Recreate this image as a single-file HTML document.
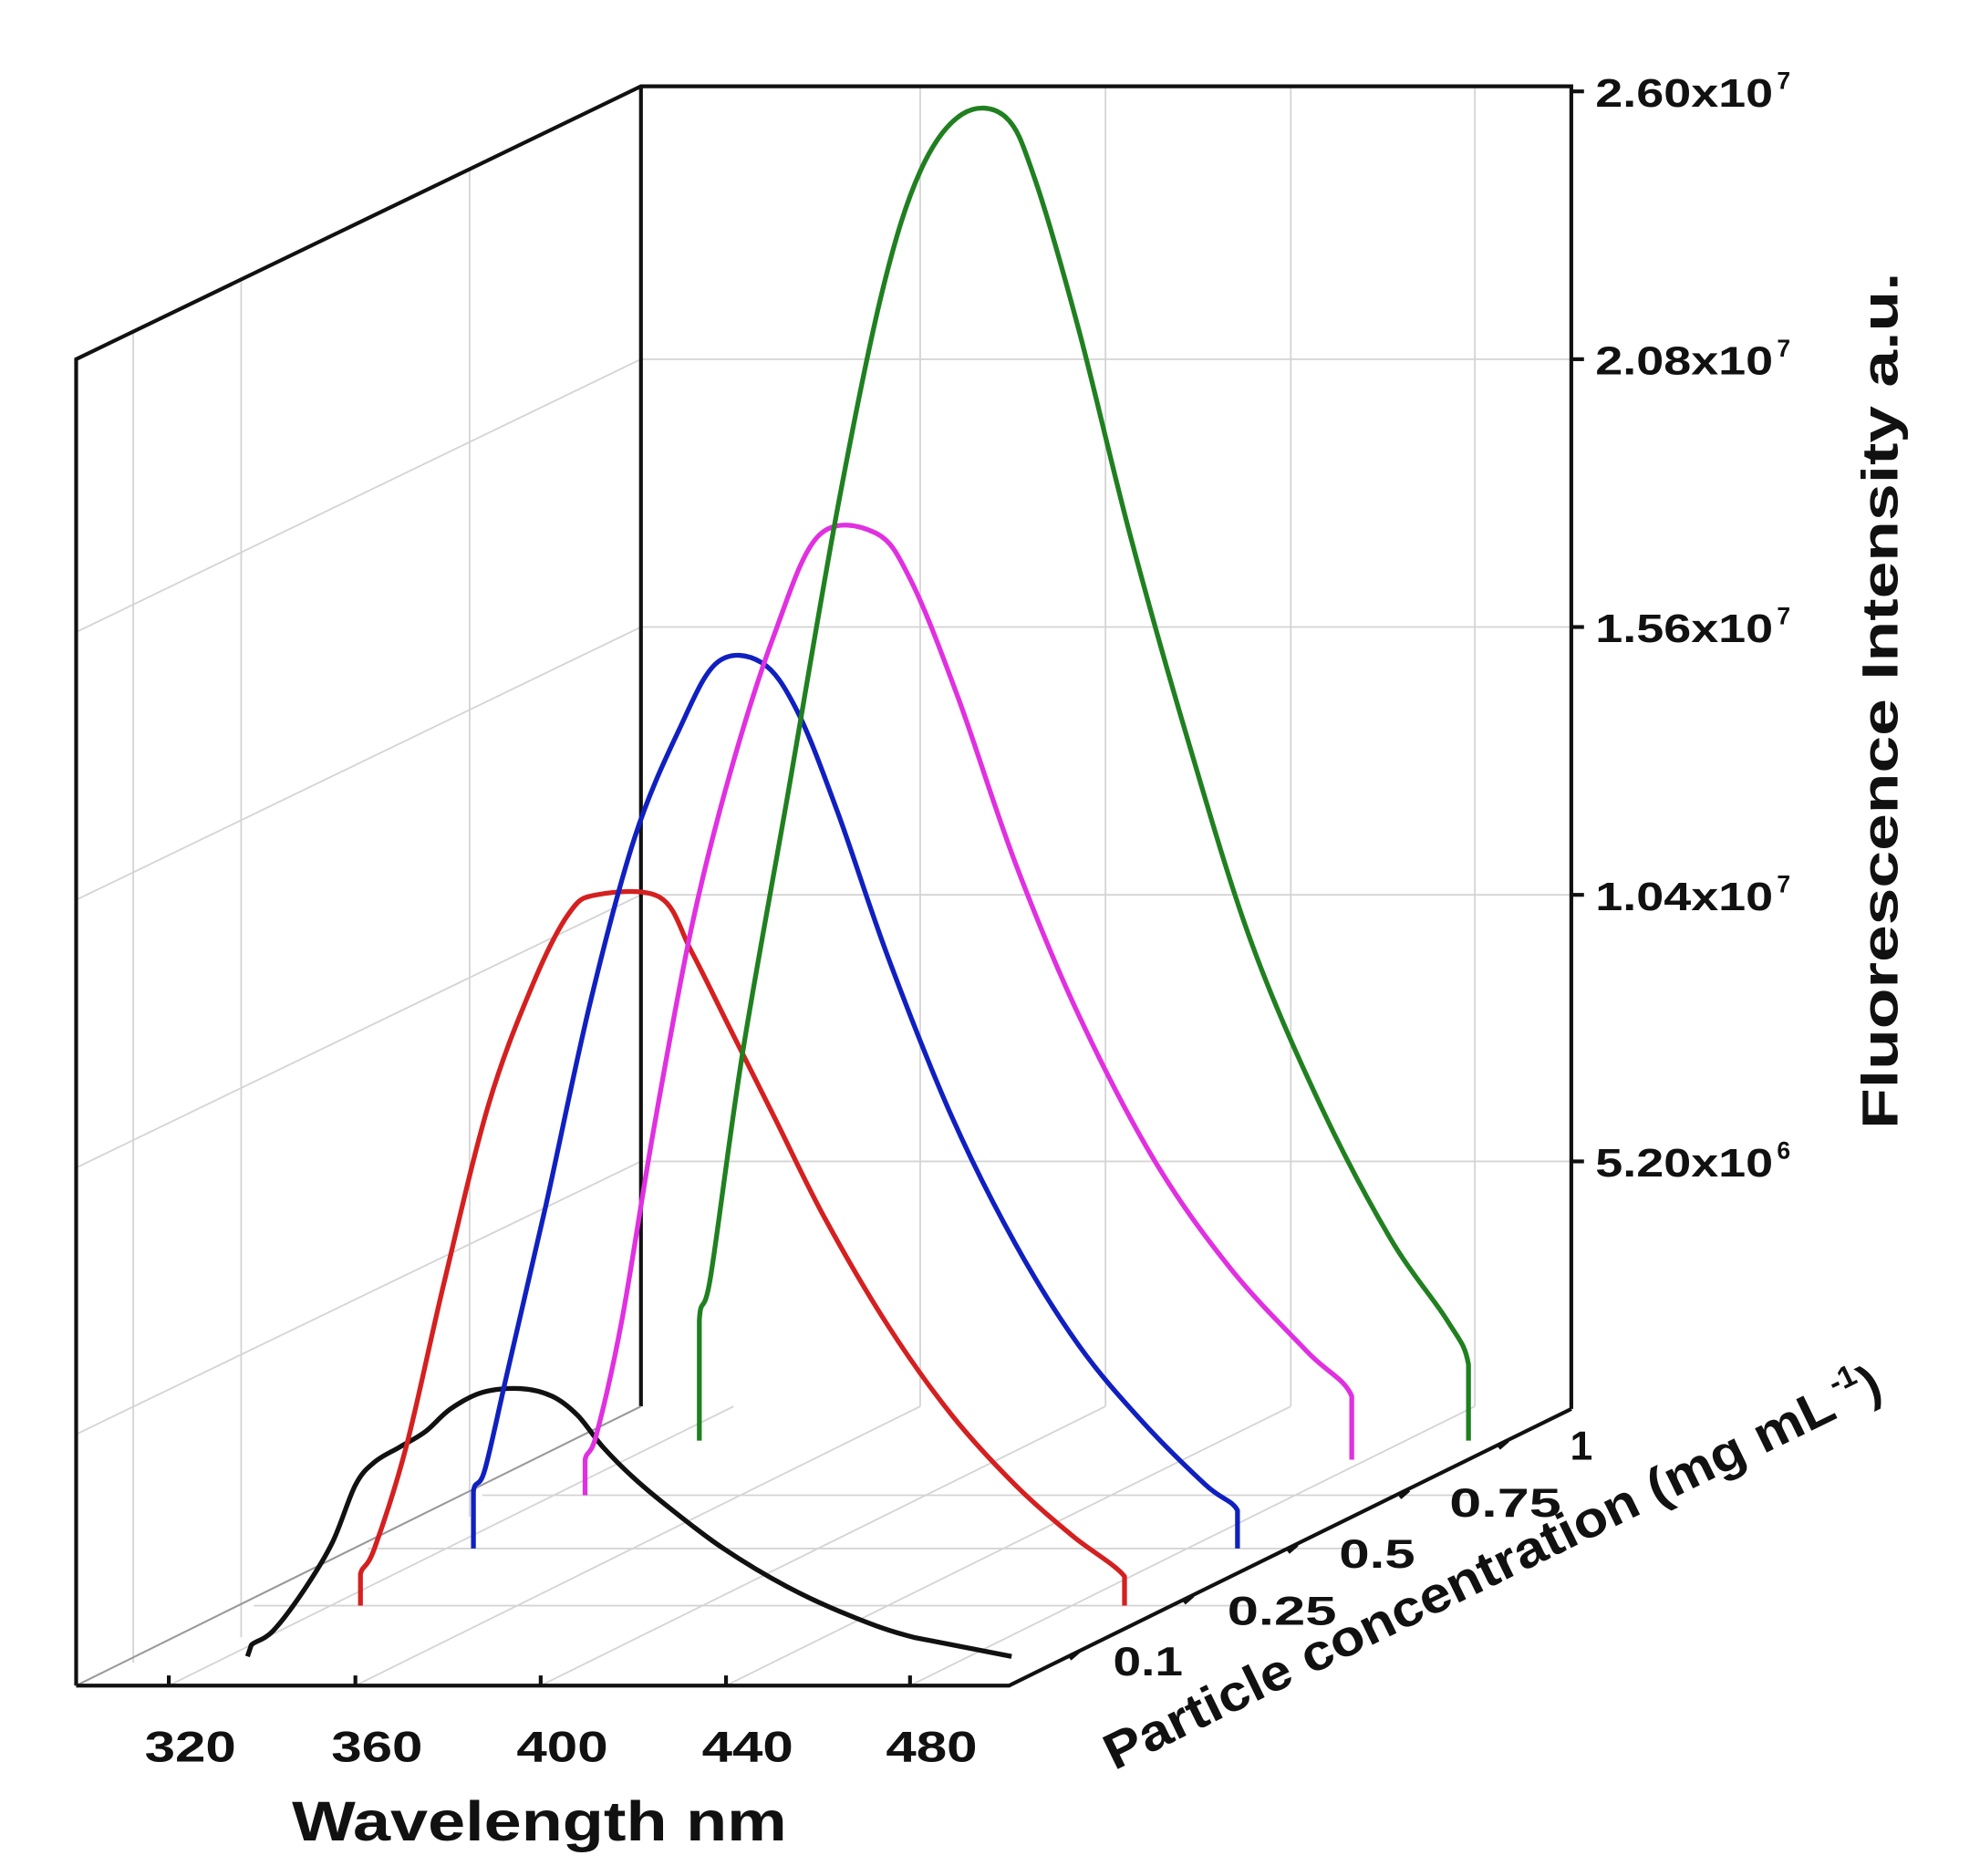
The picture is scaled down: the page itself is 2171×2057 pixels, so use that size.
<!DOCTYPE html>
<html><head><meta charset="utf-8"><style>
html,body{margin:0;padding:0;background:#fff;}
svg{display:block;}
text{font-family:"Liberation Sans",sans-serif;font-weight:bold;fill:#111;}
</style></head><body>
<svg id="s" width="2171" height="2057" viewBox="0 0 1560 1478" preserveAspectRatio="none" xmlns="http://www.w3.org/2000/svg">
<g stroke="#d4d4d4" stroke-width="1.3" fill="none">
<line x1="505" y1="283" x2="1238" y2="283"/><line x1="505" y1="494" x2="1238" y2="494"/>
<line x1="505" y1="705" x2="1238" y2="705"/><line x1="505" y1="915" x2="1238" y2="915"/>
<line x1="725" y1="68" x2="725" y2="1108"/><line x1="871" y1="68" x2="871" y2="1108"/>
<line x1="1017" y1="68" x2="1017" y2="1108"/><line x1="1162" y1="68" x2="1162" y2="1108"/>
<line x1="60" y1="498" x2="505" y2="283"/><line x1="60" y1="709" x2="505" y2="494"/>
<line x1="60" y1="920" x2="505" y2="705"/><line x1="60" y1="1130" x2="505" y2="915"/>
<line x1="105" y1="262" x2="105" y2="1310"/><line x1="190" y1="220" x2="190" y2="1290"/><line x1="370" y1="133" x2="370" y2="1195"/>
<line x1="133" y1="1328" x2="578" y2="1108"/><line x1="280" y1="1328" x2="725" y2="1108"/>
<line x1="426" y1="1328" x2="871" y2="1108"/><line x1="572" y1="1328" x2="1017" y2="1108"/>
<line x1="717" y1="1328" x2="1162" y2="1108"/>
<line x1="380" y1="1178" x2="1160" y2="1178"/><line x1="290" y1="1220" x2="1075" y2="1220"/>
<line x1="200" y1="1265" x2="985" y2="1265"/>
</g>
<g stroke="#111" stroke-width="3" fill="none">
<polyline points="60,1328 60,283 505,68 1238,68 1238,1110"/>
<line x1="505" y1="68" x2="505" y2="1108"/>
<line x1="505" y1="1108" x2="60" y2="1328" stroke="#999" stroke-width="1.5"/>
<polyline points="60,1328 795,1328 1238,1110"/>
</g>
<g stroke="#111" stroke-width="3">
<line x1="1238" y1="72" x2="1248" y2="72"/><line x1="1238" y1="283" x2="1248" y2="283"/>
<line x1="1238" y1="494" x2="1248" y2="494"/><line x1="1238" y1="705" x2="1248" y2="705"/>
<line x1="1238" y1="915" x2="1248" y2="915"/>
<line x1="133" y1="1328" x2="133" y2="1320"/><line x1="280" y1="1328" x2="280" y2="1320"/>
<line x1="426" y1="1328" x2="426" y2="1320"/><line x1="572" y1="1328" x2="572" y2="1320"/><line x1="717" y1="1328" x2="717" y2="1320"/>
</g>
<g fill="none" stroke-width="3.8" stroke-linejoin="round" class="curves">
<polyline stroke="#111" points="195,1305 198,1296 215,1285 240,1252 262,1215 280,1170 295,1152 315,1140 335,1128 355,1110 380,1097 410,1094 435,1100 455,1115 475,1140 500,1165 530,1190 570,1220 620,1250 670,1273 720,1290 797,1305"/>
<polyline stroke="#d42020" points="284,1265 284,1240 295,1220 320,1140 350,1010 385,870 420,775 448,720 470,705 520,707 545,750 575,810 610,880 650,960 700,1045 750,1115 800,1170 845,1210 886,1242 886,1265"/>
<polyline stroke="#1020c0" points="373,1220 373,1175 382,1158 400,1080 430,950 465,790 500,660 535,575 565,522 600,522 628,560 660,640 700,755 750,880 800,980 850,1060 900,1120 950,1170 975,1190 975,1220"/>
<polyline stroke="#e030e0" points="461,1178 461,1150 470,1130 490,1040 515,890 545,730 575,610 610,500 645,422 690,420 718,458 755,550 800,680 850,800 910,915 970,1000 1030,1065 1065,1100 1065,1150"/>
<polyline stroke="#208020" points="551,1135 551,1040 560,1005 585,830 620,630 660,400 695,230 725,135 758,90 792,92 815,140 850,260 890,420 935,580 985,740 1040,870 1095,975 1140,1040 1157,1075 1157,1135"/>
</g>
<g font-size="31">
<text x="1257" y="84" textLength="140" lengthAdjust="spacingAndGlyphs">2.60x10</text><text x="1400" y="70" font-size="19">7</text>
<text x="1257" y="295" textLength="140" lengthAdjust="spacingAndGlyphs">2.08x10</text><text x="1400" y="281" font-size="19">7</text>
<text x="1257" y="506" textLength="140" lengthAdjust="spacingAndGlyphs">1.56x10</text><text x="1400" y="492" font-size="19">7</text>
<text x="1257" y="717" textLength="140" lengthAdjust="spacingAndGlyphs">1.04x10</text><text x="1400" y="703" font-size="19">7</text>
<text x="1257" y="927" textLength="140" lengthAdjust="spacingAndGlyphs">5.20x10</text><text x="1400" y="913" font-size="19">6</text>
</g>
<text font-size="40" transform="translate(1495,552) rotate(-90)" text-anchor="middle" textLength="675" lengthAdjust="spacingAndGlyphs">Fluorescence Intensity a.u.</text>
<g font-size="34" text-anchor="middle">
<text x="150" y="1388" textLength="72" lengthAdjust="spacingAndGlyphs">320</text><text x="297" y="1388" textLength="72" lengthAdjust="spacingAndGlyphs">360</text><text x="443" y="1388" textLength="72" lengthAdjust="spacingAndGlyphs">400</text>
<text x="589" y="1388" textLength="72" lengthAdjust="spacingAndGlyphs">440</text><text x="734" y="1388" textLength="72" lengthAdjust="spacingAndGlyphs">480</text>
</g>
<text x="425" y="1450" font-size="44" text-anchor="middle" textLength="390" lengthAdjust="spacingAndGlyphs">Wavelength nm</text>
<g font-size="32">
<text x="877" y="1320" textLength="55" lengthAdjust="spacingAndGlyphs">0.1</text><text x="967" y="1280" textLength="86" lengthAdjust="spacingAndGlyphs">0.25</text><text x="1055" y="1235" textLength="60" lengthAdjust="spacingAndGlyphs">0.5</text>
<text x="1142" y="1195" textLength="88" lengthAdjust="spacingAndGlyphs">0.75</text><text x="1237" y="1150">1</text>
</g>
<g stroke="#111" stroke-width="3">
<line x1="850" y1="1301" x2="843" y2="1307"/><line x1="940" y1="1257" x2="933" y2="1263"/>
<line x1="1022" y1="1217" x2="1015" y2="1223"/><line x1="1110" y1="1174" x2="1103" y2="1180"/><line x1="1188" y1="1135" x2="1181" y2="1141"/>
</g>
<g transform="translate(878,1395) rotate(-26)">
<text font-size="40" textLength="635" lengthAdjust="spacingAndGlyphs">Particle concentration (mg mL</text>
<text x="640" y="-18" font-size="24">-1</text>
<text x="662" font-size="40">)</text>
</g>
</svg>
<script>
document.querySelectorAll('.curves polyline').forEach(function(pl){
  var p=pl.getAttribute('points').trim().split(/\s+/).map(function(s){return s.split(',').map(Number);});
  var d='M'+p[0][0]+','+p[0][1]+' L'+p[1][0]+','+p[1][1];
  for(var i=1;i<p.length-2;i++){
    var p0=p[i-1],p1=p[i],p2=p[i+1],p3=p[i+2];
    var c1=[p1[0]+(p2[0]-p0[0])/6,p1[1]+(p2[1]-p0[1])/6];
    var c2=[p2[0]-(p3[0]-p1[0])/6,p2[1]-(p3[1]-p1[1])/6];
    d+=' C'+c1[0]+','+c1[1]+' '+c2[0]+','+c2[1]+' '+p2[0]+','+p2[1];
  }
  var n=p.length; d+=' L'+p[n-1][0]+','+p[n-1][1];
  var path=document.createElementNS('http://www.w3.org/2000/svg','path');
  path.setAttribute('d',d);path.setAttribute('stroke',pl.getAttribute('stroke'));
  pl.parentNode.replaceChild(path,pl);
});
</script>
</body></html>
